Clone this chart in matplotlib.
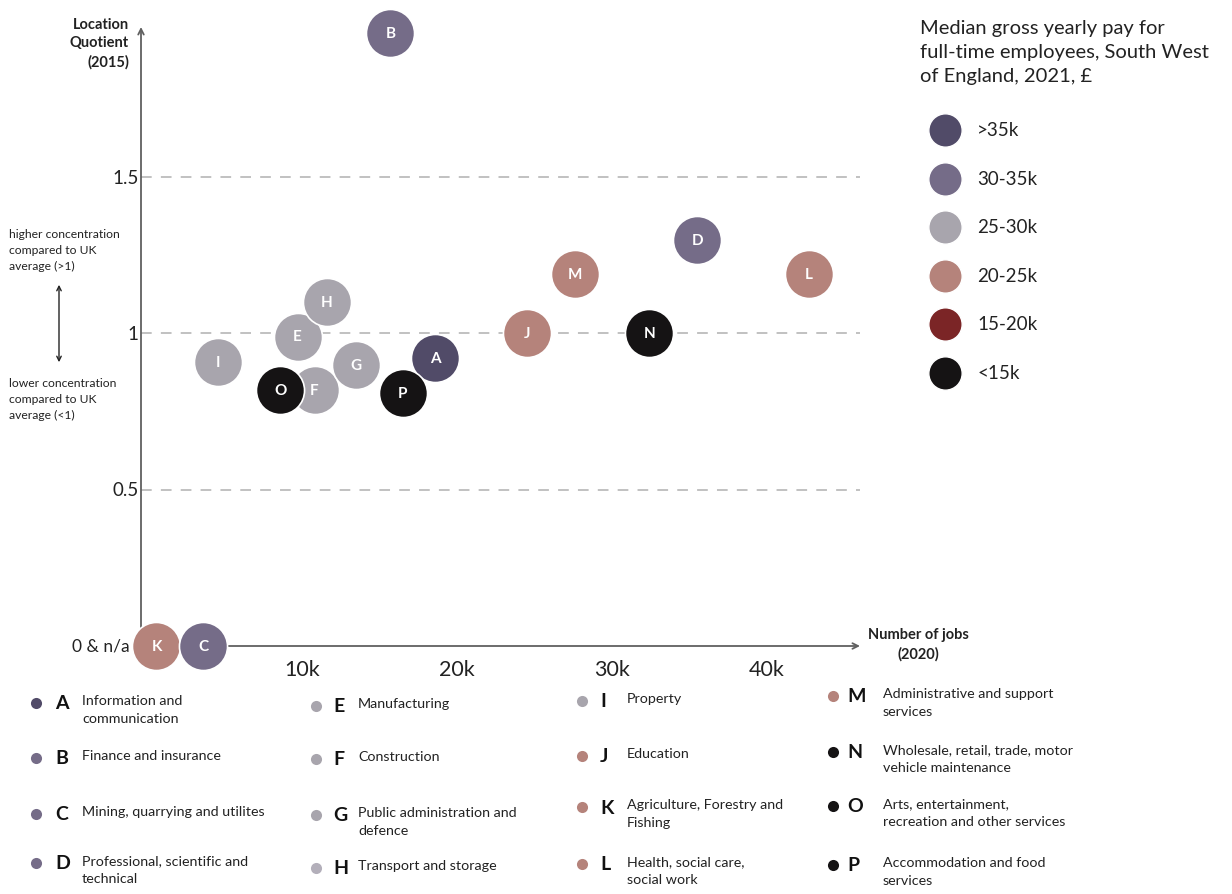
import numpy as np
import matplotlib
matplotlib.use("Agg")
from matplotlib import pyplot as plt
from matplotlib.lines import Line2D

plt.rcParams['font.family'] = ['Lato', 'DejaVu Sans']

# sectors: letter, jobs (thousands, 2020), location quotient (2015), pay band
letters = ['A', 'B', 'C', 'D', 'E', 'F', 'G', 'H', 'I', 'J', 'K', 'L', 'M', 'N', 'O', 'P']
jobs_k = [18.6, 15.7, 3.6, 35.5, 9.7, 10.8, 13.5, 11.6, 4.6, 24.5, 0.6, 42.7, 27.6, 32.4, 8.6, 16.5]
lq = [0.92, 1.96, 0.0, 1.30, 0.99, 0.82, 0.90, 1.10, 0.91, 1.00, 0.0, 1.19, 1.19, 1.00, 0.82, 0.81]
pay_band = ['>35k', '30-35k', '30-35k', '30-35k', '25-30k', '25-30k', '25-30k', '25-30k',
            '25-30k', '20-25k', '20-25k', '20-25k', '20-25k', '<15k', '<15k', '<15k']
sector_names = [
    'Information and\ncommunication',
    'Finance and insurance',
    'Mining, quarrying and utilites',
    'Professional, scientific and\ntechnical',
    'Manufacturing',
    'Construction',
    'Public administration and\ndefence',
    'Transport and storage',
    'Property',
    'Education',
    'Agriculture, Forestry and\nFishing',
    'Health, social care,\nsocial work',
    'Administrative and support\nservices',
    'Wholesale, retail, trade, motor\nvehicle maintenance',
    'Arts, entertainment,\nrecreation and other services',
    'Accommodation and food\nservices',
]

bands = ['>35k', '30-35k', '25-30k', '20-25k', '15-20k', '<15k']
band_colors = ['#514b68', '#756c88', '#a8a5ad', '#b5837b', '#7b2526', '#151314']
color_of = dict(zip(bands, band_colors))

y_ticks = [0.5, 1, 1.5]
y_ticklabels = ['0.5', '1', '1.5']
x_ticks = [10, 20, 30, 40]
x_ticklabels = ['10k', '20k', '30k', '40k']

W, H = 1232, 895
fig = plt.figure(figsize=(W / 100, H / 100), dpi=100)


def px(x, y):
    return x / W, 1 - y / H


ax = fig.add_axes([141 / W, 1 - 647 / H, (860 - 141) / W, (647 - 28) / H])
ax.set_xlim(-0.4, 46.0)
ax.set_ylim(0, 1.98)
for s in ax.spines.values():
    s.set_visible(False)
ax.set_xticks([])
ax.set_yticks([])

# dashed reference lines
for yv in y_ticks:
    ax.axhline(yv, color='#b0b0b0', lw=1.1, dashes=(7, 6), zorder=1)

# axis arrows
arrow = dict(arrowstyle='->', color='#606060', lw=1.3, shrinkA=0, shrinkB=0)
ax.annotate('', xy=(0, 1), xytext=(0, 0), xycoords='axes fraction', arrowprops=arrow, zorder=2)
ax.annotate('', xy=(1, 0), xytext=(0, 0), xycoords='axes fraction', arrowprops=arrow, zorder=2)

for yv, lab in zip(y_ticks, y_ticklabels):
    ax.text(-0.55, yv, lab, ha='right', va='center', fontsize=13.5, color='#222222')
ax.text(-1.15, 0, '0 & n/a', ha='right', va='center', fontsize=12.5, color='#222222')
for xv, lab in zip(x_ticks, x_ticklabels):
    ax.text(xv, -0.075, lab, ha='center', va='center', fontsize=15.5, color='#222222')

# bubbles
for i, (l, x, y, b) in enumerate(zip(letters, jobs_k, lq, pay_band)):
    z = 5 if l == 'K' else 6 + i * 0.01
    ax.scatter([x], [y], s=1200, color=color_of[b], edgecolors='white', linewidths=1.2,
               zorder=z, clip_on=False)
    ax.text(x, y, l, ha='center', va='center', color='white', fontsize=11,
            fontweight='bold', zorder=z + 0.005)

# axis titles
fig.text(*px(129, 18), 'Location\nQuotient\n(2015)', ha='right', va='top', fontsize=10.5,
         fontweight='bold', color='#222222', linespacing=1.4)
fig.text(*px(918, 645), 'Number of jobs\n(2020)', ha='center', va='center', fontsize=10.5,
         fontweight='bold', color='#222222', linespacing=1.4)

# concentration note on the left
fig.text(*px(9, 229), 'higher concentration\ncompared to UK\naverage (>1)', ha='left', va='top',
         fontsize=8.7, color='#222222', linespacing=1.55)
fig.text(*px(9, 378), 'lower concentration\ncompared to UK\naverage (<1)', ha='left', va='top',
         fontsize=8.7, color='#222222', linespacing=1.55)
fig.add_artist(matplotlib.patches.FancyArrowPatch(
    px(59, 283), px(59, 366), transform=fig.transFigure, arrowstyle='<->',
    mutation_scale=8, color='#222222', lw=1.0))

# pay band key
fig.text(*px(920, 20), 'Median gross yearly pay for\nfull-time employees, South West\nof England, 2021, £',
         ha='left', va='top', fontsize=14.5, color='#222222', linespacing=1.5)
for k, (b, c) in enumerate(zip(bands, band_colors)):
    yy = 131 + k * 48.5
    fig.add_artist(Line2D([px(945, yy)[0]], [px(945, yy)[1]], marker='o', ms=24,
                          color=c, mec='white', mew=1, transform=fig.transFigure))
    fig.text(*px(977, yy), b, ha='left', va='center', fontsize=13.5, color='#222222')

# sector key along the bottom
col_x = [(36, 55, 82), (316, 333, 358), (582, 600, 627), (833, 847, 883)]
row_y = [[704, 759, 815, 864], [707, 760, 816, 869], [702, 757, 808, 865], [697, 753, 807, 866]]
for i, (l, name, b) in enumerate(zip(letters, sector_names, pay_band)):
    c, r = divmod(i, 4)
    dx, lx, tx = col_x[c]
    yy = row_y[c][r]
    dot_c = '#b3afba' if l == 'H' else color_of[b]
    fig.add_artist(Line2D([px(dx, yy)[0]], [px(dx, yy)[1]], marker='o', ms=8,
                          color=dot_c, mew=0, transform=fig.transFigure))
    fig.text(*px(lx, yy), l, ha='left', va='center', fontsize=14, fontweight='bold',
             color='#111111')
    fig.text(*px(tx, yy - 9), name, ha='left', va='top', fontsize=10.3, color='#222222',
             linespacing=1.6)

fig.savefig('out.png', dpi=100)
